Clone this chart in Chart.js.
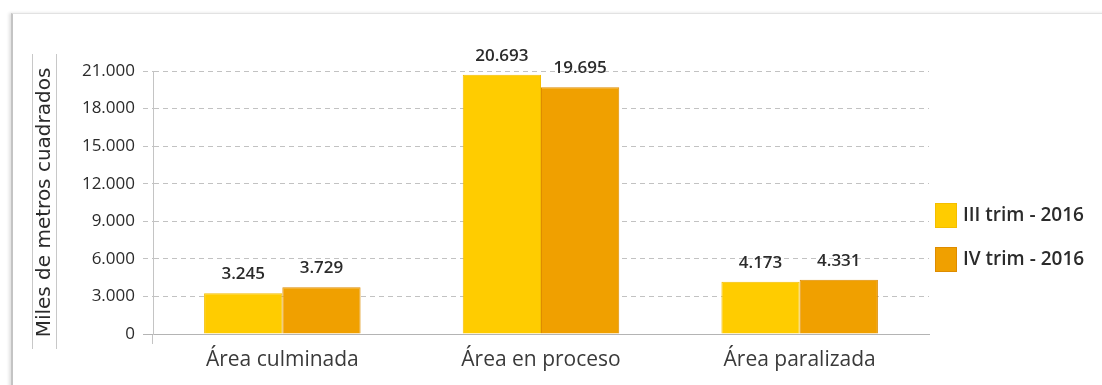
<!DOCTYPE html>
<html>
<head>
<meta charset="utf-8">
<script src="https://cdn.jsdelivr.net/npm/chart.js@4.4.0/dist/chart.umd.min.js"></script>
<style>
    html, body { margin: 0; padding: 0; background: #fff; }
    body { width: 1102px; height: 385px; position: relative; overflow: hidden; }
    .frame {
        position: absolute; left: 11px; top: 13px; width: 1100px; height: 380px;
        border-left: 2px solid #c4c4c4; border-top: 1px solid #e2e2e2;
        box-shadow: -2px 0 3px rgba(0, 0, 0, 0.12);
    }
    #chart { position: absolute; left: 0; top: 0; }
</style>
</head>
<body>
<div class="frame"></div>
<canvas id="chart" width="1102" height="385"></canvas>
<script>
// ===== DATA =====
const categories = ['Área culminada', 'Área en proceso', 'Área paralizada'];
const seriesNames = ['III trim - 2016', 'IV trim - 2016'];
const trim3Values = [3245, 20693, 4173];
const trim4Values = [3729, 19695, 4331];
const yTicks = [0, 3000, 6000, 9000, 12000, 15000, 18000, 21000];

const COLORS = {
    yellow: '#FFCC00',
    yellowBorder: '#F4BE00',
    orange: '#F0A000',
    orangeBorder: '#DE8C00',
    text: '#2b2b2b',
    grid: '#c2c2c2'
};

const FONT = "'Open Sans', sans-serif";

// 3245 -> "3.245"
const fmt = (v) => String(v).replace(/\B(?=(\d{3})+(?!\d))/g, '.');

// ===== VALUE LABELS ABOVE BARS =====
const valueLabels = {
    id: 'valueLabels',
    afterDatasetsDraw(chart) {
        const ctx = chart.ctx;
        ctx.save();
        ctx.font = '600 17px ' + FONT;
        ctx.fillStyle = COLORS.text;
        ctx.textAlign = 'center';
        ctx.textBaseline = 'alphabetic';
        chart.data.datasets.forEach((ds, i) => {
            chart.getDatasetMeta(i).data.forEach((bar, j) => {
                ctx.fillText(fmt(ds.data[j]), bar.x, bar.y - 14);
            });
        });
        ctx.restore();
    }
};

// ===== LEGEND (right side) + title rules =====
const sideLegend = {
    id: 'sideLegend',
    afterDraw(chart) {
        const ctx = chart.ctx;
        ctx.save();
        // thin rules beside the y title
        ctx.strokeStyle = '#c8c8c8';
        ctx.lineWidth = 1;
        ctx.beginPath();
        ctx.moveTo(32.5, 54); ctx.lineTo(32.5, 349);
        ctx.moveTo(56.5, 54); ctx.lineTo(56.5, 349);
        ctx.stroke();

        ctx.font = '600 19px ' + FONT;
        ctx.textBaseline = 'middle';
        ctx.textAlign = 'left';
        chart.data.datasets.forEach((ds, i) => {
            const y = 203 + i * 44;
            ctx.fillStyle = ds.backgroundColor;
            ctx.strokeStyle = ds.borderColor;
            ctx.fillRect(935, y, 22, 25);
            ctx.strokeRect(935.5, y + 0.5, 21, 24);
            ctx.fillStyle = COLORS.text;
            ctx.fillText(ds.label, 963, y + 13);
        });
        ctx.restore();
    }
};

new Chart(document.getElementById('chart'), {
    type: 'bar',
    data: {
        labels: categories,
        datasets: [{
            label: seriesNames[0],
            data: trim3Values,
            backgroundColor: COLORS.yellow,
            borderColor: COLORS.yellowBorder,
            borderWidth: 1
        }, {
            label: seriesNames[1],
            data: trim4Values,
            backgroundColor: COLORS.orange,
            borderColor: COLORS.orangeBorder,
            borderWidth: 1
        }]
    },
    options: {
        responsive: false,
        animation: false,
        events: [],
        categoryPercentage: 0.605,
        barPercentage: 1,
        layout: {
            padding: { left: 30, right: 173, top: 71, bottom: 0 }
        },
        plugins: {
            legend: { display: false },
            tooltip: { enabled: false }
        },
        scales: {
            x: {
                afterFit: (scale) => { scale.height = 51; },
                border: { display: true, color: '#b4b4b4', width: 1 },
                grid: {
                    drawOnChartArea: false,
                    drawTicks: true,
                    tickLength: 10,
                    color: (c) => c.index === 0 ? '#c4c4c4' : 'rgba(0,0,0,0)'
                },
                ticks: {
                    color: '#3a3a3a',
                    padding: 3,
                    font: { family: FONT, size: 21 }
                }
            },
            y: {
                min: 0,
                max: 21000,
                afterFit: (scale) => { scale.width = 153 - 30; },
                afterBuildTicks: (scale) => {
                    scale.ticks = yTicks.map(v => ({ value: v }));
                },
                border: { display: true, color: '#c4c4c4', width: 1, dash: [5, 4] },
                grid: {
                    color: (c) => c.tick && c.tick.value === 0 ? '#b4b4b4' : COLORS.grid,
                    tickLength: 10,
                    tickBorderDash: (c) => c.tick && c.tick.value === 0 ? [] : [5, 4]
                },
                ticks: {
                    color: COLORS.text,
                    padding: 8,
                    font: { family: FONT, size: 17 },
                    callback: (v) => fmt(v)
                },
                title: {
                    display: true,
                    text: 'Miles de metros cuadrados',
                    color: COLORS.text,
                    padding: { top: 3, bottom: 0 },
                    font: { family: "'DejaVu Sans', sans-serif", size: 20 }
                }
            }
        }
    },
    plugins: [valueLabels, sideLegend]
});
</script>
</body>
</html>
